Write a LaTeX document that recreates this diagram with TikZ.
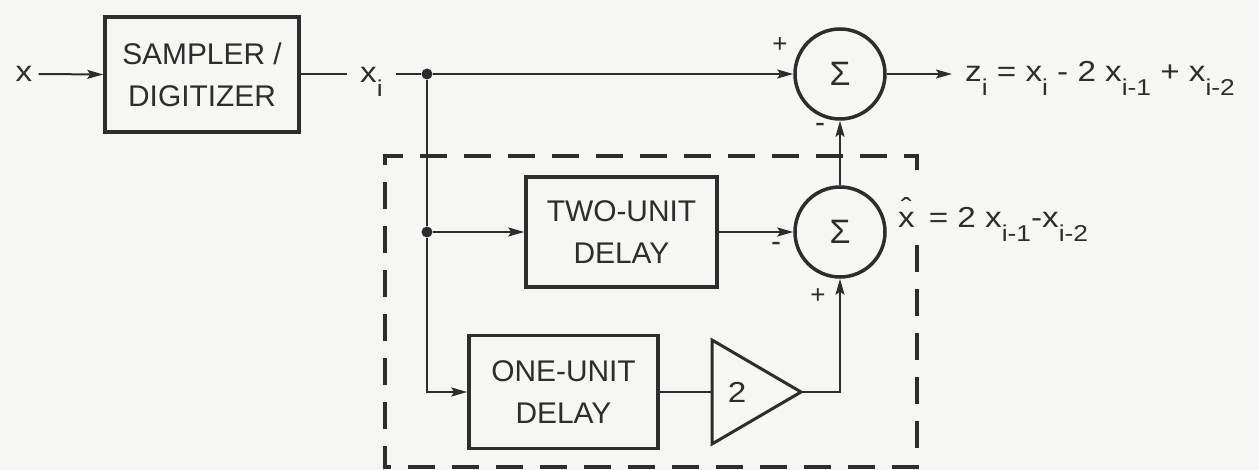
\documentclass[tikz,border=0pt]{standalone}
\usepackage{fontspec}
\setmainfont{Liberation Sans}
\newfontfamily\widefont[FakeStretch=1.15]{Liberation Sans}
\usetikzlibrary{arrows.meta}
\definecolor{paper}{RGB}{246,246,244}
\definecolor{ink}{RGB}{45,45,45}
\newcommand\mysub[1]{\raisebox{-0.47em}{\fontsize{23}{25}\selectfont #1}}
\newcommand\hatx{\makebox[0pt][l]{\kern0.09em\raisebox{0.34em}{ˆ}}x}
\begin{document}
\begin{tikzpicture}[x=1bp,y=-1bp,color=ink,
  blk/.style={draw,line width=3.5bp,inner sep=0,align=center,font=\fontsize{30}{42}\selectfont},
  sumnode/.style={circle,draw,line width=3.5bp,minimum size=90bp,inner sep=0,font=\fontsize{34}{36}\selectfont},
  conn/.style={line width=2bp},
  arr/.style={conn,-{Stealth[length=16bp,width=9bp,inset=3bp]}},
  dotnode/.style={circle,fill,inner sep=0,minimum size=11bp},
  lbl/.style={font=\widefont\fontsize{29}{32}\selectfont,inner sep=0},
  plus/.style={font=\fontsize{26}{28}\selectfont,inner sep=0},
  minus/.style={font=\fontsize{30}{32}\selectfont,inner sep=0},
  tri/.style={draw,line width=3bp,line join=miter},
  dashbox/.style={draw,line width=3.5bp,dash pattern=on 27bp off 17bp}]
\fill[paper] (0,0) rectangle (1259,470);
\useasboundingbox (0,0) rectangle (1259,470);

% dashed predictor enclosure (open beside the x-hat label)
\draw[dashbox] (917,245) -- (917,467) -- (385,467) -- (385,156) -- (917,156) -- (917,182);

% nodes
\node[lbl,inner xsep=6bp] (xin) at (24,74) {x};
\node[blk,minimum width=194bp,minimum height=115bp] (samp) at (202,74.5) {SAMPLER /\\DIGITIZER};
\node[lbl,anchor=base west,inner xsep=13bp,inner ysep=0] (xi) at (347,83) {x\mysub{i}};
\node[dotnode] (d1) at (427,74) {};
\node[dotnode] (d2) at (427,232) {};
\node[sumnode] (s1) at (840,74) {Σ};
\node[sumnode] (s2) at (840,232) {Σ};
\node[blk,minimum width=191bp,minimum height=110bp] (two) at (621.5,232) {TWO-UNIT\\DELAY};
\node[blk,minimum width=189bp,minimum height=113bp] (one) at (563.5,392) {ONE-UNIT\\DELAY};

% amplifier (gain 2)
\draw[tri] (712,340) -- (801,392) -- (712,444) -- cycle;
\coordinate (ampin) at (712,392);
\coordinate (amptip) at (801,392);
\node[lbl] (gain) at (737,392) {2};

% signs
\node[plus] (p1) at (780,45) {+};
\node[minus] (m1) at (820,128) {-};
\node[minus] (m2) at (776,247) {-};
\node[plus] (p2) at (818,296) {+};

% connectors
\draw[arr] (xin.east) -- (samp.west);
\draw[conn] (samp.east) -- (samp.east -| xi.west);
\draw[conn] (xi.east |- d1) -- (d1);
\draw[arr] (d1) -- (s1.west);
\draw[conn] (d1) -- (d2);
\draw[arr] (d2) -- (two.west);
\draw[arr] (d2) |- (one.west);
\draw[arr] (two.east) -- (s2.west);
\draw[conn] (one.east) -- (ampin);
\draw[arr] (amptip) -| (s2.south);
\draw[arr] (s2.north) -- (s1.south);
\coordinate (zout) at (952,74);
\draw[arr] (s1.east) -- (zout);

% output labels
\node[lbl,anchor=base west] (zlbl) at (965,82) {z\mysub{i} = x\mysub{i} - 2 x\mysub{i-1} + x\mysub{i-2}};
\node[lbl,anchor=base west] (xhat) at (898,228) {\hatx{}\, = 2 x\mysub{i-1}-x\mysub{i-2}};
\end{tikzpicture}
\end{document}
